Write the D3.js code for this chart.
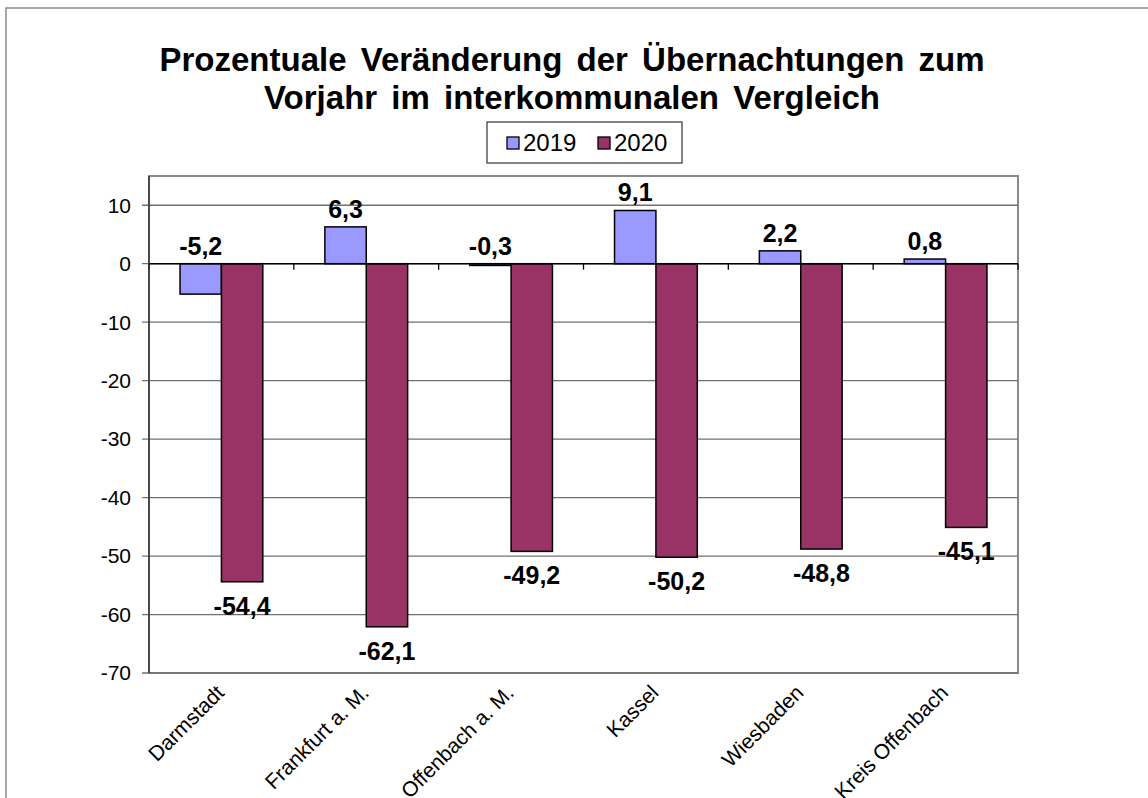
<!DOCTYPE html>
<html>
<head>
<meta charset="utf-8">
<script src="https://cdn.jsdelivr.net/npm/d3@7"></script>
<style>
  body { margin: 0; background: #fff; }
  svg { font-family: Arial, "Liberation Sans", sans-serif; display: block; }
  .grid line { stroke: #707070; stroke-width: 1.3; }
  .bar { stroke: #000; stroke-width: 1.5; }
  .value-label { font-weight: bold; font-size: 25px; fill: #000; }
  .tick-label { font-size: 21px; fill: #000; }
  .cat-label { font-size: 21px; fill: #000; }
</style>
</head>
<body>
<div id="chart"></div>
<script>
// --- Übernachtungen: Veränderung zum Vorjahr, 2019 vs 2020 ---

const cities = ['Darmstadt', 'Frankfurt a. M.', 'Offenbach a. M.', 'Kassel', 'Wiesbaden', 'Kreis Offenbach'];
const years = ['2019', '2020'];
const values2019 = [-5.2, 6.3, -0.3, 9.1, 2.2, 0.8];
const values2020 = [-54.4, -62.1, -49.2, -50.2, -48.8, -45.1];
const yTicks = [10, 0, -10, -20, -30, -40, -50, -60, -70];
const titleLines = ['Prozentuale Veränderung der Übernachtungen zum', 'Vorjahr im interkommunalen Vergleich'];

const colors = { '2019': '#9999ff', '2020': '#993366' };

const W = 1148, H = 798;
const plot = { left: 149, right: 1018, top: 176, bottom: 673 };

// German decimal comma, plain hyphen for minus
const fmt = v => v.toFixed(1).replace('.', ',');

const svg = d3.select('#chart').append('svg')
  .attr('width', W)
  .attr('height', H);

// outer chart border (runs off the bottom/right of the picture)
svg.append('rect')
  .attr('x', 6).attr('y', 8)
  .attr('width', W + 10).attr('height', H + 10)
  .attr('fill', '#fff')
  .attr('stroke', '#8a8a8a')
  .attr('stroke-width', 1.5);

// title
svg.append('g').selectAll('text')
  .data(titleLines)
  .join('text')
  .attr('x', 572)
  .attr('y', (d, i) => 71 + i * 38)
  .attr('text-anchor', 'middle')
  .attr('font-size', 33)
  .attr('font-weight', 'bold')
  .attr('word-spacing', 5)
  .text(d => d);

const yScale = d3.scaleLinear().domain([-70, 15]).range([plot.bottom, plot.top]);
const xScale = d3.scaleBand().domain(cities).range([plot.left, plot.right]);
const xSub = d3.scaleBand().domain(years).range([0, xScale.bandwidth()]).paddingOuter(0.75);

const rows = cities.map((c, i) => ({ city: c, '2019': values2019[i], '2020': values2020[i] }));

// plot area frame
svg.append('rect')
  .attr('x', plot.left).attr('y', plot.top)
  .attr('width', plot.right - plot.left).attr('height', plot.bottom - plot.top)
  .attr('fill', 'none')
  .attr('stroke', '#8a8a8a')
  .attr('stroke-width', 2);

// horizontal gridlines + left ticks
svg.append('g')
  .attr('class', 'grid')
  .selectAll('line')
  .data(yTicks)
  .join('line')
  .attr('x1', plot.left - 7).attr('x2', plot.right)
  .attr('y1', d => yScale(d)).attr('y2', d => yScale(d));

svg.append('g').selectAll('text')
  .data(yTicks)
  .join('text')
  .attr('class', 'tick-label')
  .attr('x', plot.left - 18)
  .attr('y', d => yScale(d))
  .attr('dy', '0.35em')
  .attr('text-anchor', 'end')
  .text(d => d);

// bars
const groups = svg.append('g').selectAll('g')
  .data(rows)
  .join('g')
  .attr('transform', d => `translate(${xScale(d.city)},0)`);

groups.selectAll('rect')
  .data(d => years.map(y => ({ year: y, value: d[y] })))
  .join('rect')
  .attr('class', 'bar')
  .attr('x', d => xSub(d.year))
  .attr('width', xSub.bandwidth())
  .attr('y', d => yScale(Math.max(0, d.value)))
  .attr('height', d => Math.abs(yScale(d.value) - yScale(0)))
  .attr('fill', d => colors[d.year]);

// value labels: 2019 above the zero line / bar top, 2020 below the bar end
groups.selectAll('text')
  .data(d => years.map(y => ({ year: y, value: d[y] })))
  .join('text')
  .attr('class', 'value-label')
  .attr('text-anchor', 'middle')
  .attr('x', d => xSub(d.year) + xSub.bandwidth() / 2)
  .attr('y', d => d.year === '2019'
    ? yScale(Math.max(0, d.value)) - 9
    : yScale(d.value) + 33)
  .text(d => fmt(d.value));

// category axis along zero line
const xAxis = svg.append('g')
  .attr('transform', `translate(0,${yScale(0)})`);
xAxis.append('line')
  .attr('x1', plot.left).attr('x2', plot.right)
  .attr('stroke', '#000').attr('stroke-width', 1.5);
xAxis.selectAll('.xtick')
  .data(cities.concat(['end']))
  .join('line')
  .attr('class', 'xtick')
  .attr('x1', (d, i) => plot.left + i * xScale.step())
  .attr('x2', (d, i) => plot.left + i * xScale.step())
  .attr('y1', 0).attr('y2', 6)
  .attr('stroke', '#000').attr('stroke-width', 1.3);

// left axis line
svg.append('line')
  .attr('x1', plot.left).attr('x2', plot.left)
  .attr('y1', plot.top).attr('y2', plot.bottom)
  .attr('stroke', '#333').attr('stroke-width', 1.5);

// category labels, rotated
svg.append('g').selectAll('text')
  .data(cities)
  .join('text')
  .attr('class', 'cat-label')
  .attr('text-anchor', 'end')
  .attr('transform', d => `translate(${xScale(d) + xScale.bandwidth() / 2 + 4},${plot.bottom + 21}) rotate(-45)`)
  .text(d => d);

// legend
const legend = svg.append('g');
legend.append('rect')
  .attr('x', 487).attr('y', 122)
  .attr('width', 195).attr('height', 41)
  .attr('fill', '#fff')
  .attr('stroke', '#333').attr('stroke-width', 1.2);

const legendItems = legend.selectAll('g')
  .data(years)
  .join('g')
  .attr('transform', (d, i) => `translate(${507 + i * 91},137)`);
legendItems.append('rect')
  .attr('width', 12).attr('height', 12)
  .attr('fill', d => colors[d])
  .attr('stroke', '#000').attr('stroke-width', 1.3);
legendItems.append('text')
  .attr('x', 16).attr('y', 14)
  .attr('font-size', 24)
  .text(d => d);
</script>
</body>
</html>
